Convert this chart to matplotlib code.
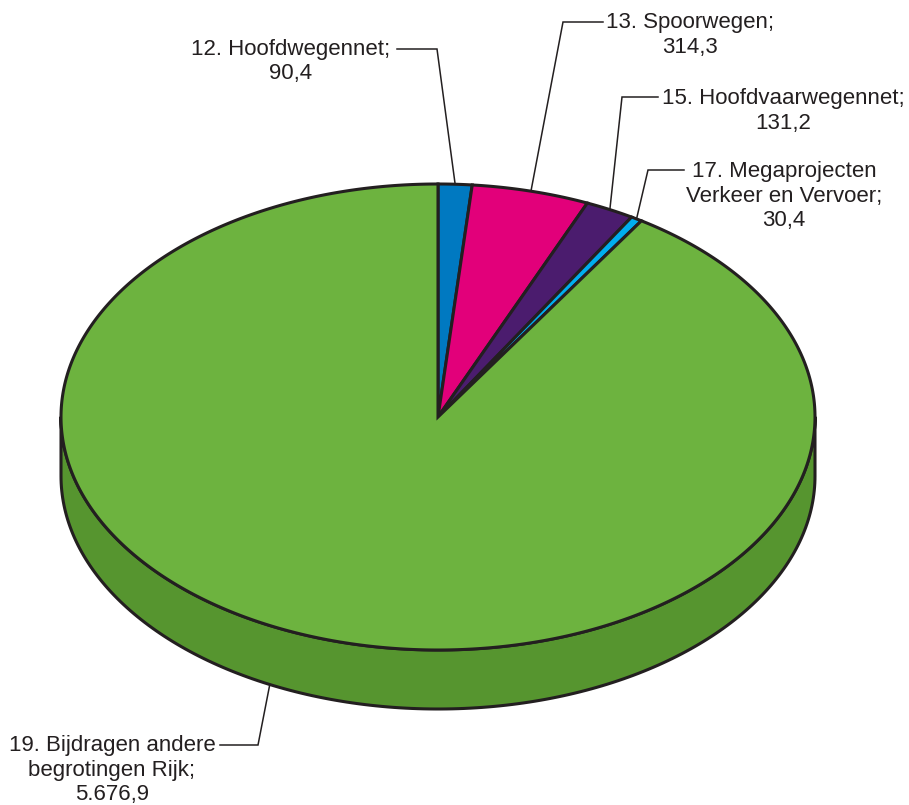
import numpy as np
import matplotlib
matplotlib.use("Agg")
import matplotlib.pyplot as plt
from matplotlib.patches import Polygon

# ---------------- data ----------------
categories = ["12. Hoofdwegennet", "13. Spoorwegen", "15. Hoofdvaarwegennet",
              "17. Megaprojecten Verkeer en Vervoer", "19. Bijdragen andere begrotingen Rijk"]
values = [90.4, 314.3, 131.2, 30.4, 5676.9]
value_labels = ["90,4", "314,3", "131,2", "30,4", "5.676,9"]
label_lines = [["12. Hoofdwegennet;"], ["13. Spoorwegen;"], ["15. Hoofdvaarwegennet;"],
               ["17. Megaprojecten", "Verkeer en Vervoer;"],
               ["19. Bijdragen andere", "begrotingen Rijk;"]]
colors = ["#0079C1", "#E2007A", "#4B1C6E", "#00AEEF", "#6DB33F"]
side_colors = ["#005F99", "#B00060", "#3A1556", "#0089BD", "#56952F"]

# ---------------- layout ----------------
W, H = 909, 805
cx, cy, rx, ry, depth = 438, 417, 377, 233, 59
EDGE = "#231F20"
LW = 2.2

# label layout: text centre x, first baseline y, leader start, elbow, anchor mode
label_layout = [
    dict(tx=291, by=55, start=(397, 49), elbow=(437, 49), anchor="mid"),
    dict(tx=690, by=28, start=(603, 22), elbow=(563, 22), anchor="mid"),
    dict(tx=783, by=104, start=(658, 97), elbow=(622, 97), anchor="mid"),
    dict(tx=784, by=177, start=(684, 170), elbow=(648, 170), anchor="mid"),
    dict(tx=112, by=751, start=(220, 745), elbow=(258, 745), anchor=("side", 243.5)),
]
LINE_SP = 24.5

plt.rcParams['font.family'] = ['Liberation Sans', 'DejaVu Sans']
fig = plt.figure(figsize=(W / 100, H / 100), dpi=100)
ax = fig.add_axes([0, 0, 1, 1])
ax.set_xlim(0, W)
ax.set_ylim(H, 0)
ax.axis('off')


def pt(theta_deg, dy=0.0):
    t = np.radians(theta_deg)
    return cx + rx * np.cos(t), cy - ry * np.sin(t) + dy


total = float(sum(values))
spans = [v / total * 360.0 for v in values]
starts = []
a = 90.0
for s in spans:
    starts.append(a)
    a -= s

# ---------------- side (visible front, theta in [180, 360]) ----------------
for i, (a0, s) in enumerate(zip(starts, spans)):
    lo, hi = a0 - s, a0
    for k in (-1, 0, 1, 2):
        l, h = lo + 360 * k, hi + 360 * k
        l2, h2 = max(l, 180.0), min(h, 360.0)
        if h2 > l2:
            th = np.linspace(l2, h2, 200)
            top = [pt(t) for t in th]
            bot = [pt(t, depth) for t in th[::-1]]
            ax.add_patch(Polygon(top + bot, closed=True, facecolor=side_colors[i],
                                 edgecolor=EDGE, linewidth=LW, joinstyle='round', zorder=2))

# ---------------- top wedges ----------------
for i, (a0, s) in enumerate(zip(starts, spans)):
    th = np.linspace(a0, a0 - s, max(int(s * 3), 4))
    poly = [(cx, cy)] + [pt(t) for t in th]
    ax.add_patch(Polygon(poly, closed=True, facecolor=colors[i], edgecolor=EDGE,
                         linewidth=LW, joinstyle='miter', zorder=3))

# ---------------- labels & leader lines ----------------
for i, lay in enumerate(label_layout):
    if lay["anchor"] == "mid":
        anchor = pt(starts[i] - spans[i] / 2)
    else:
        anchor = pt(lay["anchor"][1], depth)
    xs = [lay["start"][0], lay["elbow"][0], anchor[0]]
    ys = [lay["start"][1], lay["elbow"][1], anchor[1]]
    ax.plot(xs, ys, color=EDGE, linewidth=1.1, solid_joinstyle='miter', zorder=4)
    lines = label_lines[i] + [value_labels[i]]
    for j, line in enumerate(lines):
        ax.text(lay["tx"], lay["by"] + j * LINE_SP, line, ha='center', va='baseline',
                fontsize=16, color=EDGE, zorder=5)

fig.savefig("out.png", dpi=100)
